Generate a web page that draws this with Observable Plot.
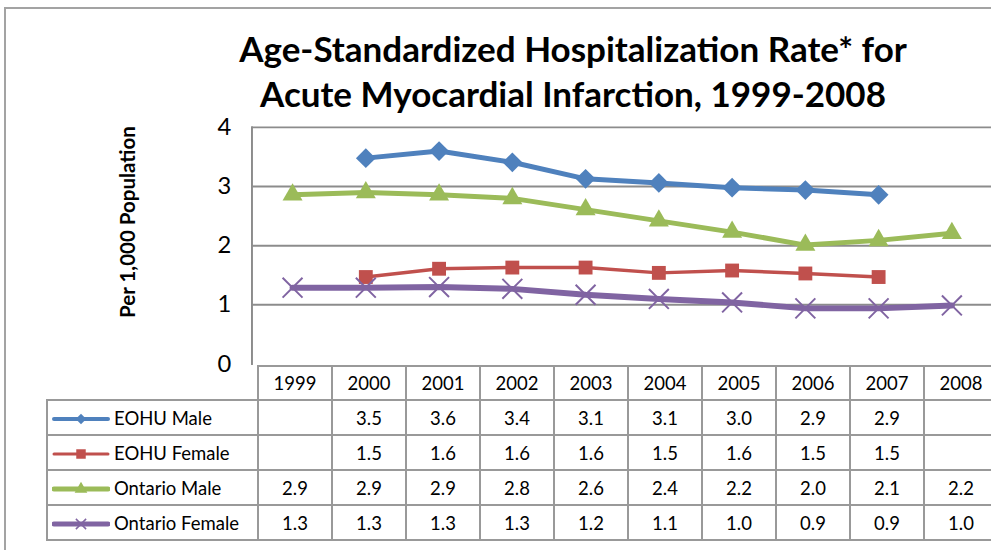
<!DOCTYPE html>
<html>
<head>
<meta charset="utf-8">
<script src="https://cdn.jsdelivr.net/npm/d3@7"></script>
<script src="https://cdn.jsdelivr.net/npm/@observablehq/plot@0.6"></script>
<style>
  html, body { margin: 0; padding: 0; background: #fff; width: 991px; height: 550px; overflow: hidden; position: relative; }
  body { font-family: Lato, "Open Sans", sans-serif; color: #000; }
  #frame { position: absolute; left: 4px; top: 7px; width: 1100px; height: 700px; border-left: 2px solid #a3a3a3; border-top: 2px solid #a3a3a3; }
  #title { position: absolute; left: 155px; width: 836px; top: 26px; text-align: center; font-weight: bold; font-size: 35px; line-height: 45px; }
  #ylabel { position: absolute; left: 127px; top: 222px; transform: translate(-50%, -50%) rotate(-90deg); font-weight: bold; font-size: 20.5px; white-space: nowrap; }
  #chart { position: absolute; left: 0; top: 115px; }
  #chart svg { overflow: visible; }
  #tbl { position: absolute; top: 365px; border-collapse: collapse; table-layout: fixed; font-size: 18.5px; }
  #tbl td { border: 2px solid #999; text-align: center; padding: 0; height: 33px; white-space: nowrap; overflow: hidden; }
  #tbl tr.head td { height: 32px; }
  #tbl td.blank { border: none; }
  #tbl td.name { text-align: left; padding-left: 4px; }
  #tbl td.name svg { vertical-align: middle; margin-right: 4px; }
  #tbl td.name span { vertical-align: middle; }
</style>
</head>
<body>
<div id="frame"></div>
<div id="title">Age-Standardized Hospitalization Rate* for<br>Acute Myocardial Infarction, 1999-2008</div>
<div id="ylabel">Per 1,000 Population</div>
<div id="chart"></div>
<script>
// ---- data ----
const years = ["1999", "2000", "2001", "2002", "2003", "2004", "2005", "2006", "2007", "2008"];
const seriesNames = ["EOHU Male", "EOHU Female", "Ontario Male", "Ontario Female"];
const eohuMale      = [null, 3.48, 3.60, 3.41, 3.13, 3.06, 2.98, 2.94, 2.86, null];
const eohuFemale    = [null, 1.47, 1.61, 1.63, 1.63, 1.54, 1.58, 1.53, 1.47, null];
const ontarioMale   = [2.86, 2.90, 2.86, 2.80, 2.61, 2.42, 2.23, 2.01, 2.09, 2.21];
const ontarioFemale = [1.29, 1.29, 1.30, 1.27, 1.17, 1.10, 1.04, 0.94, 0.94, 0.99];
const yTicks = [0, 1, 2, 3, 4];

// ---- styles ----
const seriesValues = [eohuMale, eohuFemale, ontarioMale, ontarioFemale];
const colors = ["#4F81BD", "#C0504D", "#9BBB59", "#8064A2"];
const symbols = ["diamond2", "square", "triangle", "times"];
const radii = [9, 7.9, 7.5, 9.2];
const lineWidths = [5, 3.5, 5, 6];
const legendSyms = [d3.symbolDiamond2, d3.symbolSquare, d3.symbolTriangle, d3.symbolTimes];
const legendSizes = [70, 90, 70, 70];
const legendLW = [4, 3, 5, 5];

const rowsFor = (i) => years.map((yr, j) => ({series: seriesNames[i], year: yr, value: seriesValues[i][j]}))
  .filter(d => d.value != null);

const marks = [
  Plot.gridY(yTicks.filter(t => t > 0), {stroke: "#8c8c8c", strokeOpacity: 1, strokeWidth: 2}),
  Plot.frame({anchor: "left", stroke: "#8c8c8c", strokeWidth: 2}),
  Plot.axisY(yTicks, {tickSize: 0, tickPadding: 21, fontSize: 24, tickFormat: d3.format("d"), label: null, fontFamily: "Lato, 'Open Sans', sans-serif", fill: "#000"})
];
seriesNames.forEach((name, i) => {
  const data = rowsFor(i);
  marks.push(Plot.line(data, {x: "year", y: "value", stroke: colors[i], strokeWidth: lineWidths[i], strokeLinejoin: "round", curve: "linear"}));
  const sym = symbols[i];
  if (sym === "times") {
    marks.push(Plot.dot(data, {x: "year", y: "value", symbol: sym, r: radii[i], stroke: colors[i], strokeWidth: 2}));
  } else {
    marks.push(Plot.dot(data, {x: "year", y: "value", symbol: sym, r: radii[i], fill: colors[i], stroke: "none"}));
  }
});

const chart = Plot.plot({
  width: 1001,
  height: 251,
  marginTop: 12,
  marginBottom: 0,
  marginLeft: 254,
  marginRight: 0,
  style: {fontFamily: "Lato, 'Open Sans', sans-serif", background: "transparent", overflow: "visible"},
  x: {type: "band", domain: years, padding: 0, axis: null},
  y: {domain: [0, 4], axis: null},
  marks
});
document.getElementById("chart").appendChild(chart);

// ---- data table under the chart, aligned to the x scale ----
const xs = chart.scale("x");
const bw = xs.bandwidth;
const nameColW = xs.apply(years[0]) - 47;
const tbl = document.createElement("table");
tbl.id = "tbl";
tbl.style.left = (47 - 1) + "px";
tbl.style.width = (nameColW + bw * years.length) + "px";
const colgroup = document.createElement("colgroup");
const c0 = document.createElement("col"); c0.style.width = nameColW + "px"; colgroup.appendChild(c0);
years.forEach(() => { const c = document.createElement("col"); c.style.width = bw + "px"; colgroup.appendChild(c); });
tbl.appendChild(colgroup);

const head = document.createElement("tr"); head.className = "head";
const blank = document.createElement("td"); blank.className = "blank"; head.appendChild(blank);
years.forEach(y => { const td = document.createElement("td"); td.textContent = y; head.appendChild(td); });
tbl.appendChild(head);

seriesNames.forEach((name, i) => {
  const tr = document.createElement("tr");
  const td0 = document.createElement("td"); td0.className = "name";
  const sw = d3.create("svg").attr("width", 58).attr("height", 20);
  sw.append("line").attr("x1", 2).attr("x2", 56).attr("y1", 10).attr("y2", 10)
    .attr("stroke", colors[i]).attr("stroke-width", legendLW[i]).attr("stroke-linecap", "round");
  const p = sw.append("path").attr("transform", "translate(29,10)")
    .attr("d", d3.symbol(legendSyms[i], legendSizes[i])());
  if (symbols[i] === "times") p.attr("fill", "none").attr("stroke", colors[i]).attr("stroke-width", 1.5);
  else p.attr("fill", colors[i]);
  td0.appendChild(sw.node());
  const sp = document.createElement("span"); sp.textContent = name; td0.appendChild(sp);
  tr.appendChild(td0);
  seriesValues[i].forEach(v => {
    const td = document.createElement("td");
    td.textContent = v == null ? "" : v.toFixed(1);
    tr.appendChild(td);
  });
  tbl.appendChild(tr);
});
document.body.appendChild(tbl);
</script>
</body>
</html>
